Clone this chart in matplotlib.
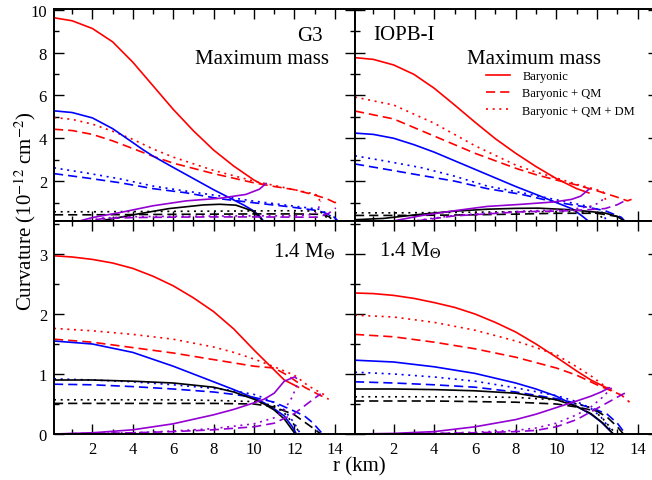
import numpy as np
import matplotlib.pyplot as plt
from matplotlib.lines import Line2D
from matplotlib.ticker import MultipleLocator

plt.rcParams['font.family'] = 'Liberation Serif'
plt.rcParams['mathtext.fontset'] = 'stix'

# ---- data: (r [km], curvature [1e-12 cm^-2]) ----
# G3, maximum mass
G3_MAX_RED_SOLID = [(0.1, 9.62), (1, 9.48), (2, 9.12), (3, 8.5), (4, 7.55), (5, 6.45), (6, 5.35),
                    (7, 4.35), (8, 3.45), (9, 2.7), (10, 2.05), (10.4, 1.85)]
G3_MAX_RED_DASHED = [(0.1, 4.42), (1, 4.36), (2, 4.18), (3, 3.88), (4, 3.52), (5, 3.16), (6, 2.84),
                     (8, 2.35), (10, 1.92), (11, 1.75), (12, 1.6), (13, 1.35), (13.6, 1.18),
                     (14.0, 1.0), (14.3, 1.08)]
G3_MAX_RED_DOTTED = [(0.1, 4.97), (1, 4.88), (2, 4.66), (3, 4.33), (4, 3.95), (5, 3.5), (6, 3.12),
                     (8, 2.5), (10, 2.0), (11, 1.8), (12, 1.6), (13, 1.4), (13.2, 1.3), (13.25, 1.08)]
G3_MAX_BLUE_SOLID = [(0.1, 5.28), (1, 5.2), (2, 4.95), (3, 4.45), (4, 3.8), (4.5, 3.47), (5, 3.17),
                     (6, 2.64), (7, 2.12), (8, 1.6), (9, 1.12), (9.5, 0.88), (10, 0.6), (10.3, 0.35),
                     (10.5, 0.1)]
G3_MAX_BLUE_DASHED = [(0.1, 2.35), (1.7, 2.15), (3.4, 1.92), (5, 1.65), (6.6, 1.46), (8.3, 1.18),
                      (9.9, 1.0), (11.6, 0.82), (13.2, 0.62), (13.9, 0.38), (14.2, 0.1)]
G3_MAX_BLUE_DOTTED = [(0.1, 2.62), (1.7, 2.38), (3.4, 2.1), (5, 1.77), (6.6, 1.54), (8.3, 1.31),
                      (9.9, 1.08), (11.6, 0.88), (13.2, 0.69), (13.7, 0.46), (14.0, 0.1)]
G3_MAX_BLACK_SOLID = [(2.0, 0.05), (2.6, 0.18), (4.2, 0.46), (5.8, 0.72), (7.5, 0.89), (8.3, 0.92),
                      (9.1, 0.88), (9.9, 0.62), (10.3, 0.31), (10.45, 0.1)]
G3_MAX_BLACK_DASHED = [(0.1, 0.43), (2, 0.43), (4, 0.44), (6, 0.45), (8, 0.46), (10, 0.47), (12, 0.47),
                       (13.3, 0.45), (13.7, 0.35), (14.0, 0.1)]
G3_MAX_BLACK_DOTTED = [(0.1, 0.57), (2, 0.57), (4, 0.58), (6, 0.59), (8, 0.6), (10, 0.61), (12, 0.62),
                       (13.2, 0.6), (13.5, 0.45), (13.7, 0.1)]
G3_MAX_PURPLE_SOLID = [(1.2, 0.1), (2, 0.3), (3.4, 0.54), (5, 0.85), (6.65, 1.08), (8.3, 1.2),
                       (9.6, 1.38), (10.26, 1.62), (10.6, 1.89)]
G3_MAX_PURPLE_DASHED = [(1.5, 0.1), (2.5, 0.25), (4, 0.3), (6, 0.32), (8, 0.33), (10, 0.33), (12, 0.32),
                        (13.2, 0.32), (13.7, 0.5), (14.05, 0.75)]
G3_MAX_PURPLE_DOTTED = [(1.5, 0.1), (2.5, 0.28), (4, 0.34), (6, 0.36), (8, 0.37), (10, 0.38), (12, 0.38),
                        (13.0, 0.45), (13.2, 0.75), (13.3, 1.05)]

# IOPB-I, maximum mass
IOPB_MAX_RED_SOLID = [(0.1, 7.76), (1, 7.68), (2, 7.42), (3, 6.98), (4, 6.33), (5, 5.55), (6, 4.75),
                      (7, 3.98), (8, 3.3), (9, 2.68), (10, 2.12), (11, 1.65), (11.6, 1.45)]
IOPB_MAX_RED_DASHED = [(0.1, 5.27), (2, 4.9), (4, 4.1), (6, 3.3), (8, 2.6), (9, 2.3), (10, 2.05),
                       (11, 1.82), (12, 1.55), (13, 1.25), (13.5, 1.08), (13.7, 1.15)]
IOPB_MAX_RED_DOTTED = [(0.1, 5.92), (2, 5.55), (4, 4.7), (6, 3.65), (8, 2.75), (9, 2.42), (10, 2.15),
                       (11, 1.85), (12, 1.6), (12.3, 1.5), (12.45, 1.05)]
IOPB_MAX_BLUE_SOLID = [(0.1, 4.24), (1, 4.18), (2, 4.0), (3, 3.7), (4, 3.35), (5, 2.95), (6, 2.55),
                       (7, 2.15), (8, 1.75), (9, 1.38), (10, 1.0), (10.8, 0.7), (11.3, 0.35),
                       (11.6, 0.12)]
IOPB_MAX_BLUE_DASHED = [(0.1, 2.8), (1.7, 2.54), (3.4, 2.26), (5, 2.0), (6.6, 1.65), (8.3, 1.38),
                        (9.9, 1.03), (11.6, 0.77), (12.4, 0.62), (13.2, 0.31), (13.4, 0.1)]
IOPB_MAX_BLUE_DOTTED = [(0.1, 3.18), (1.7, 2.92), (3.4, 2.62), (5, 2.23), (6.6, 1.77), (8.3, 1.46),
                        (9.9, 1.15), (11.6, 0.82), (12.2, 0.62), (12.5, 0.1)]
IOPB_MAX_BLACK_SOLID = [(0.1, 0.2), (1.5, 0.26), (3.4, 0.46), (5, 0.6), (6.6, 0.69), (8, 0.73),
                        (9.1, 0.74), (10.8, 0.66), (12.4, 0.51), (13.0, 0.35), (13.4, 0.1)]
IOPB_MAX_BLACK_DASHED = [(0.1, 0.4), (2, 0.4), (4, 0.41), (6, 0.43), (8, 0.46), (10, 0.5), (12, 0.5),
                         (13, 0.35), (13.4, 0.1)]
IOPB_MAX_BLACK_DOTTED = [(0.1, 0.52), (2, 0.52), (4, 0.53), (6, 0.55), (8, 0.57), (10, 0.58), (11, 0.58),
                         (12, 0.5), (12.5, 0.1)]
IOPB_MAX_PURPLE_SOLID = [(1.5, 0.05), (2.2, 0.18), (3.4, 0.4), (5, 0.62), (6.6, 0.82), (8.3, 0.92),
                         (9.9, 1.03), (10.75, 1.15), (11.2, 1.3), (11.4, 1.46), (11.6, 1.62)]
IOPB_MAX_PURPLE_DASHED = [(2.5, 0.05), (3.4, 0.18), (5, 0.38), (8.3, 0.57), (10.75, 0.62), (12.4, 0.72),
                          (13.0, 0.9), (13.5, 1.15)]
IOPB_MAX_PURPLE_DOTTED = [(2.5, 0.05), (3.4, 0.2), (5, 0.4), (8.3, 0.6), (10.75, 0.68), (11.8, 0.85),
                          (12.2, 1.05), (12.4, 1.3)]

# G3, 1.4 Msun
G3_14_RED_SOLID = [(0.1, 2.97), (1, 2.95), (2, 2.91), (3, 2.85), (4, 2.76), (5, 2.63), (6, 2.47),
                   (7, 2.27), (8, 2.04), (9, 1.75), (10, 1.4), (10.9, 1.1), (11.5, 0.9), (12.2, 0.78)]
G3_14_RED_DASHED = [(0.1, 1.58), (2, 1.53), (4, 1.44), (6, 1.35), (8, 1.24), (10, 1.13), (11, 1.1),
                    (11.7, 0.97), (12.5, 0.78), (13.3, 0.64), (13.7, 0.58)]
G3_14_RED_DOTTED = [(0.1, 1.76), (2, 1.72), (4, 1.66), (6, 1.58), (8, 1.45), (9, 1.36), (10, 1.25),
                    (11, 1.12), (12, 0.98), (12.7, 0.8), (13.5, 0.65)]
G3_14_BLUE_SOLID = [(0.1, 1.55), (2, 1.5), (4, 1.36), (6, 1.13), (7, 1.0), (8, 0.87), (9, 0.74),
                    (10, 0.6), (10.5, 0.52), (11, 0.42), (11.5, 0.3), (11.9, 0.12), (12.1, 0.0)]
G3_14_BLUE_DASHED = [(0.1, 0.83), (2, 0.82), (4, 0.79), (6, 0.75), (8, 0.7), (9, 0.66), (10, 0.61),
                     (11, 0.53), (12, 0.38), (12.5, 0.3), (12.9, 0.19), (13.4, 0.0)]
G3_14_BLUE_DOTTED = [(0.1, 0.92), (2, 0.9), (4, 0.87), (6, 0.82), (8, 0.76), (9, 0.72), (10, 0.66),
                     (10.5, 0.6), (11, 0.52), (11.5, 0.4), (12, 0.18), (12.3, 0.0)]
G3_14_BLACK_SOLID = [(0.1, 0.9), (2, 0.9), (4, 0.88), (6, 0.85), (8, 0.78), (9, 0.7), (10, 0.58),
                     (10.5, 0.5), (11, 0.4), (11.5, 0.25), (12, 0.02)]
G3_14_BLACK_DASHED = [(0.1, 0.51), (2, 0.51), (4, 0.51), (6, 0.51), (8, 0.51), (10, 0.5), (11, 0.45),
                      (12, 0.32), (12.5, 0.2), (13, 0.08), (13.3, 0.0)]
G3_14_BLACK_DOTTED = [(0.1, 0.57), (2, 0.57), (4, 0.57), (6, 0.57), (8, 0.56), (10, 0.54), (11, 0.47),
                      (11.5, 0.35), (12, 0.15), (12.3, 0.0)]
G3_14_PURPLE_SOLID = [(0.1, 0.0), (2, 0.02), (4, 0.07), (6, 0.17), (8, 0.32), (9, 0.41), (10, 0.52),
                      (10.5, 0.58), (11, 0.68), (11.5, 0.88), (12.0, 0.95), (12.1, 0.93)]
G3_14_PURPLE_DASHED = [(0.1, 0.0), (2, 0.01), (4, 0.02), (6, 0.04), (8, 0.07), (10, 0.12), (11, 0.18),
                       (12, 0.34), (12.7, 0.52), (13.3, 0.67)]
G3_14_PURPLE_DOTTED = [(0.1, 0.0), (2, 0.01), (4, 0.02), (6, 0.05), (8, 0.09), (10, 0.17), (11, 0.27),
                       (11.5, 0.4), (11.9, 0.62), (12.2, 0.88)]

# IOPB-I, 1.4 Msun
IOPB_14_RED_SOLID = [(0.1, 2.35), (1, 2.34), (2, 2.31), (3, 2.26), (4, 2.19), (5, 2.11), (6, 2.0),
                     (7, 1.86), (8, 1.7), (9, 1.5), (10, 1.28), (11, 1.05), (11.7, 0.9), (12.3, 0.8),
                     (12.7, 0.73)]
IOPB_14_RED_DASHED = [(0.1, 1.66), (2, 1.62), (4, 1.53), (6, 1.42), (8, 1.28), (10, 1.1), (11, 0.98),
                      (12, 0.82), (12.7, 0.72), (13.2, 0.65), (13.6, 0.53)]
IOPB_14_RED_DOTTED = [(0.1, 1.98), (2, 1.95), (4, 1.86), (6, 1.73), (8, 1.55), (9, 1.44), (10, 1.32),
                      (11, 1.12), (11.7, 0.97), (12.3, 0.82), (12.8, 0.72)]
IOPB_14_BLUE_SOLID = [(0.1, 1.23), (2, 1.2), (4, 1.12), (6, 1.01), (8, 0.85), (9, 0.75), (10, 0.63),
                      (11, 0.46), (11.7, 0.33), (12.2, 0.2), (12.5, 0.1), (12.8, 0.0)]
IOPB_14_BLUE_DASHED = [(0.1, 0.87), (2, 0.85), (4, 0.82), (6, 0.78), (8, 0.7), (10, 0.59), (11, 0.51),
                       (12, 0.4), (12.5, 0.33), (13, 0.18), (13.4, 0.0)]
IOPB_14_BLUE_DOTTED = [(0.1, 1.03), (2, 1.0), (4, 0.95), (6, 0.88), (8, 0.77), (10, 0.64), (11, 0.54),
                       (11.7, 0.43), (12.2, 0.28), (12.6, 0.1), (12.8, 0.0)]
IOPB_14_BLACK_SOLID = [(0.1, 0.75), (2, 0.75), (4, 0.74), (6, 0.72), (8, 0.68), (10, 0.57), (11, 0.46),
                       (11.7, 0.34), (12.3, 0.18), (12.8, 0.0)]
IOPB_14_BLACK_DASHED = [(0.1, 0.55), (2, 0.55), (4, 0.55), (6, 0.54), (8, 0.53), (10, 0.5), (11, 0.45),
                        (12, 0.38), (12.5, 0.28), (13, 0.12), (13.3, 0.0)]
IOPB_14_BLACK_DOTTED = [(0.1, 0.62), (2, 0.62), (4, 0.62), (6, 0.62), (8, 0.61), (10, 0.57), (11, 0.5),
                        (11.7, 0.44), (12.3, 0.25), (12.8, 0.05)]
IOPB_14_PURPLE_SOLID = [(0.1, 0.0), (2, 0.01), (4, 0.04), (6, 0.12), (8, 0.24), (9, 0.33), (10, 0.44),
                        (11, 0.55), (11.7, 0.63), (12.2, 0.7), (12.6, 0.77)]
IOPB_14_PURPLE_DASHED = [(0.1, 0.0), (2, 0.0), (4, 0.01), (6, 0.02), (8, 0.04), (9, 0.06), (10, 0.12),
                         (11, 0.24), (11.7, 0.37), (12.5, 0.52), (13.3, 0.67), (13.6, 0.7)]
IOPB_14_PURPLE_DOTTED = [(0.1, 0.0), (2, 0.0), (4, 0.01), (6, 0.03), (8, 0.06), (9, 0.1), (10, 0.18),
                         (11, 0.32), (11.7, 0.45), (12.3, 0.62), (12.8, 0.8)]

LEGEND_LABELS = ['Baryonic', 'Baryonic + QM', 'Baryonic + QM + DM']

COLORS = {'red': '#ff0000', 'blue': '#0000ff', 'black': '#000000', 'purple': '#9400d3'}
DASHES = {'solid': None, 'dashed': (5.5, 3.0), 'dotted': (1.2, 2.8)}
STYLES = ['solid', 'dashed', 'dotted']

panels = {
    'tl': [('red', G3_MAX_RED_SOLID, G3_MAX_RED_DASHED, G3_MAX_RED_DOTTED),
           ('blue', G3_MAX_BLUE_SOLID, G3_MAX_BLUE_DASHED, G3_MAX_BLUE_DOTTED),
           ('black', G3_MAX_BLACK_SOLID, G3_MAX_BLACK_DASHED, G3_MAX_BLACK_DOTTED),
           ('purple', G3_MAX_PURPLE_SOLID, G3_MAX_PURPLE_DASHED, G3_MAX_PURPLE_DOTTED)],
    'tr': [('red', IOPB_MAX_RED_SOLID, IOPB_MAX_RED_DASHED, IOPB_MAX_RED_DOTTED),
           ('blue', IOPB_MAX_BLUE_SOLID, IOPB_MAX_BLUE_DASHED, IOPB_MAX_BLUE_DOTTED),
           ('black', IOPB_MAX_BLACK_SOLID, IOPB_MAX_BLACK_DASHED, IOPB_MAX_BLACK_DOTTED),
           ('purple', IOPB_MAX_PURPLE_SOLID, IOPB_MAX_PURPLE_DASHED, IOPB_MAX_PURPLE_DOTTED)],
    'bl': [('red', G3_14_RED_SOLID, G3_14_RED_DASHED, G3_14_RED_DOTTED),
           ('blue', G3_14_BLUE_SOLID, G3_14_BLUE_DASHED, G3_14_BLUE_DOTTED),
           ('black', G3_14_BLACK_SOLID, G3_14_BLACK_DASHED, G3_14_BLACK_DOTTED),
           ('purple', G3_14_PURPLE_SOLID, G3_14_PURPLE_DASHED, G3_14_PURPLE_DOTTED)],
    'br': [('red', IOPB_14_RED_SOLID, IOPB_14_RED_DASHED, IOPB_14_RED_DOTTED),
           ('blue', IOPB_14_BLUE_SOLID, IOPB_14_BLUE_DASHED, IOPB_14_BLUE_DOTTED),
           ('black', IOPB_14_BLACK_SOLID, IOPB_14_BLACK_DASHED, IOPB_14_BLACK_DOTTED),
           ('purple', IOPB_14_PURPLE_SOLID, IOPB_14_PURPLE_DASHED, IOPB_14_PURPLE_DOTTED)],
}

W, H = 652, 481
fig = plt.figure(figsize=(W / 100, H / 100), dpi=100)


def px_rect(x0, x1, y0, y1):
    # pixel box -> figure fraction
    return [x0 / W, 1 - y1 / H, (x1 - x0) / W, (y1 - y0) / H]


axes = {
    'tl': fig.add_axes(px_rect(54, 355, 10, 222)),
    'tr': fig.add_axes(px_rect(355, 658, 10, 222)),
    'bl': fig.add_axes(px_rect(54, 355, 222, 435)),
    'br': fig.add_axes(px_rect(355, 658, 222, 435)),
}


def style_line(line, sty):
    if DASHES[sty] is not None:
        line.set_dashes(DASHES[sty])
        line.set_dash_capstyle('butt')


for key, ax in axes.items():
    for col, *curves in panels[key]:
        for sty, pts in zip(STYLES, curves):
            pts = np.array(pts)
            line, = ax.plot(pts[:, 0], pts[:, 1], color=COLORS[col], lw=1.2)
            style_line(line, sty)

    ax.set_xlim(0.1, 15)
    ax.xaxis.set_major_locator(MultipleLocator(2))
    ax.xaxis.set_minor_locator(MultipleLocator(1))
    if key[0] == 't':
        ax.set_ylim(0.14, 10.03)
        ax.yaxis.set_major_locator(MultipleLocator(2))
        ax.yaxis.set_minor_locator(MultipleLocator(1))
    else:
        ax.set_ylim(0, 3.55)
        ax.yaxis.set_major_locator(MultipleLocator(1))
        ax.yaxis.set_minor_locator(MultipleLocator(0.5))
    ax.tick_params(which='both', direction='in', top=True, right=True, labelsize=12, width=1.0)
    ax.tick_params(which='major', length=7, pad=5)
    ax.tick_params(which='minor', length=3.5)
    for sp in ax.spines.values():
        sp.set_linewidth(1.4)
    if key[0] == 't':
        ax.tick_params(labelbottom=False)
    if key[1] == 'r':
        ax.tick_params(labelleft=False)


def ftext(x, y, s, **kw):
    fig.text(x / W, 1 - y / H, s, fontsize=15, va='center', **kw)


ftext(323, 37, 'G3', ha='right')
ftext(329, 60, 'Maximum mass', ha='right')
ftext(373, 35, 'IOPB-I', ha='left')
ftext(467, 59, 'Maximum mass', ha='left')
ftext(273, 252, r'1.4 M$_{\Theta}$', ha='left')
ftext(379, 251, r'1.4 M$_{\Theta}$', ha='left')

fig.text(25 / W, 1 - 211 / H, r'Curvature (10$^{-12}$ cm$^{-2}$)', rotation=90,
         ha='center', va='center', fontsize=15)
fig.text(359 / W, 1 - 467 / H, 'r (km)', ha='center', va='center', fontsize=15)

handles = []
for sty in STYLES:
    h = Line2D([], [], color=COLORS['red'], lw=1.2)
    style_line(h, sty)
    handles.append(h)
axes['tr'].legend(handles, LEGEND_LABELS, loc='upper left', frameon=False, fontsize=9,
                  bbox_to_anchor=(486 / W, 1 - 71 / H), bbox_transform=fig.transFigure,
                  borderpad=0, borderaxespad=0, handlelength=1.9, handletextpad=1.0,
                  labelspacing=0.42)

fig.savefig('out.png', dpi=100)
